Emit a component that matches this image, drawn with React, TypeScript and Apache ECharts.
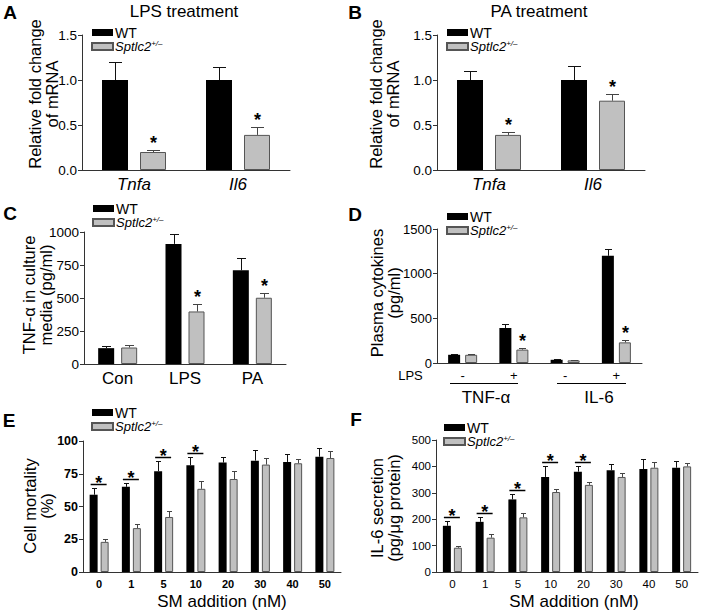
import React, { useEffect, useRef } from "react";
import * as echarts from "echarts";

const FONT = "'Liberation Sans', Arial, Helvetica, sans-serif";

// ---------- Data ----------
// Panel A – LPS treatment
const aCategories = ["Tnfa", "Il6"];
const aWT = [1.0, 1.0];
const aWTErr = [0.2, 0.15];
const aKO = [0.2, 0.39];
const aKOErr = [0.02, 0.09];
const aStars = [1, 1];

// Panel B – PA treatment
const bCategories = ["Tnfa", "Il6"];
const bWT = [1.0, 1.0];
const bWTErr = [0.1, 0.16];
const bKO = [0.39, 0.77];
const bKOErr = [0.03, 0.07];
const bStars = [1, 1];

// Panel C – TNF-α in culture media
const cCategories = ["Con", "LPS", "PA"];
const cWT = [120, 910, 710];
const cWTErr = [20, 76, 92];
const cKO = [125, 398, 502];
const cKOErr = [17, 54, 38];
const cStars = [0, 1, 1];

// Panel D – Plasma cytokines
const dCategories = ["-", "+", "-", "+"];
const dGroups = ["TNF-α", "IL-6"];
const dWT = [92, 392, 36, 1200];
const dWTErr = [8, 44, 5, 78];
const dKO = [92, 150, 30, 231];
const dKOErr = [6, 17, 3, 28];
const dStars = [0, 1, 0, 1];

// Panel E – Cell mortality
const eCategories = ["0", "1", "5", "10", "20", "30", "40", "50"];
const eWT = [59, 65, 77, 81.5, 83.5, 85, 84, 88];
const eWTErr = [5, 3, 7.5, 6, 4, 8, 6, 7];
const eKO = [23, 33.5, 42, 63.5, 71, 82, 83, 87];
const eKOErr = [2, 3, 4.5, 6, 6, 5, 3, 5];
const eSig = [1, 1, 1, 1, 0, 0, 0, 0];

// Panel F – IL-6 secretion
const fCategories = ["0", "1", "5", "10", "20", "30", "40", "50"];
const fWT = [175, 190, 275, 360, 380, 385, 390, 395];
const fWTErr = [18, 17, 22, 40, 20, 25, 38, 25];
const fKO = [92, 130, 207, 303, 330, 360, 395, 400];
const fKOErr = [8, 15, 15, 12, 12, 15, 22, 13];
const fSig = [1, 1, 1, 1, 1, 0, 0, 0];

// ---------- Helpers ----------
const AXIS_COLOR = "#333";
const GRAY = "#c0c0c0";
const GRAY_BORDER = "#555";

type Panel = {
  grid: { left: number; top: number; width: number; height: number };
  cats: string[];
  wt: number[];
  wtErr: number[];
  ko: number[];
  koErr: number[];
  flags: number[];
  mode: "star" | "sig";
  barW: number;
  gap: number;
  cap: number;
  min: number;
  max: number;
  interval: number;
  yFmt: (v: number) => string;
  yLabel: any;
  xLabel: any;
  legendPos: { left: number; top: number };
};

const plain = (v: number) => String(v);

const panels: Panel[] = [
  {
    grid: { left: 82, top: 35, width: 208, height: 135 },
    cats: aCategories, wt: aWT, wtErr: aWTErr, ko: aKO, koErr: aKOErr, flags: aStars,
    mode: "star", barW: 26, gap: 12, cap: 13, min: 0, max: 1.5, interval: 0.5,
    yFmt: (v) => v.toFixed(1),
    yLabel: { fontSize: 13.5 },
    xLabel: { fontSize: 17, fontStyle: "italic", margin: 6 },
    legendPos: { left: 91, top: 25.5 },
  },
  {
    grid: { left: 437, top: 35, width: 208, height: 135 },
    cats: bCategories, wt: bWT, wtErr: bWTErr, ko: bKO, koErr: bKOErr, flags: bStars,
    mode: "star", barW: 26, gap: 12, cap: 13, min: 0, max: 1.5, interval: 0.5,
    yFmt: (v) => v.toFixed(1),
    yLabel: { fontSize: 13.5 },
    xLabel: { fontSize: 17, fontStyle: "italic", margin: 6 },
    legendPos: { left: 446, top: 25.5 },
  },
  {
    grid: { left: 84, top: 232, width: 202, height: 132 },
    cats: cCategories, wt: cWT, wtErr: cWTErr, ko: cKO, koErr: cKOErr, flags: cStars,
    mode: "star", barW: 16, gap: 7, cap: 9, min: 0, max: 1000, interval: 250,
    yFmt: plain,
    yLabel: { fontSize: 13.5 },
    xLabel: { fontSize: 17, margin: 6 },
    legendPos: { left: 92, top: 201.5 },
  },
  {
    grid: { left: 437, top: 229, width: 205, height: 134 },
    cats: dCategories, wt: dWT, wtErr: dWTErr, ko: dKO, koErr: dKOErr, flags: dStars,
    mode: "star", barW: 12, gap: 5, cap: 7, min: 0, max: 1500, interval: 500,
    yFmt: plain,
    yLabel: { fontSize: 13 },
    xLabel: { fontSize: 13, margin: 6 },
    legendPos: { left: 446, top: 209.5 },
  },
  {
    grid: { left: 83, top: 441, width: 258, height: 131 },
    cats: eCategories, wt: eWT, wtErr: eWTErr, ko: eKO, koErr: eKOErr, flags: eSig,
    mode: "sig", barW: 8, gap: 3, cap: 5, min: 0, max: 100, interval: 25,
    yFmt: plain,
    yLabel: { fontSize: 12.5, fontWeight: "bold" },
    xLabel: { fontSize: 11, fontWeight: "bold", margin: 6 },
    legendPos: { left: 91, top: 405.5 },
  },
  {
    grid: { left: 436, top: 440, width: 262, height: 132 },
    cats: fCategories, wt: fWT, wtErr: fWTErr, ko: fKO, koErr: fKOErr, flags: fSig,
    mode: "sig", barW: 8, gap: 3, cap: 5, min: 0, max: 500, interval: 100,
    yFmt: plain,
    yLabel: { fontSize: 11.5 },
    xLabel: { fontSize: 11.5, margin: 6 },
    legendPos: { left: 443, top: 420.5 },
  },
];

function makeRenderItem(p: Panel) {
  return (params: any, api: any) => {
    const i = api.value(0);
    const wt = api.value(1);
    const wtE = api.value(2);
    const ko = api.value(3);
    const koE = api.value(4);
    const flag = api.value(5);
    const cx = api.coord([i, 0])[0];
    const off = (p.barW + p.gap) / 2;
    const xW = Math.round(cx - off) + 0.5;
    const xK = Math.round(cx + off) + 0.5;
    const yWTop = api.coord([i, wt])[1];
    const yWErr = Math.round(api.coord([i, wt + wtE])[1]) + 0.5;
    const yKTop = api.coord([i, ko])[1];
    const yKErr = Math.round(api.coord([i, ko + koE])[1]) + 0.5;
    const children: any[] = [];
    const errBar = (x: number, yTop: number, yErr: number, color: string) => {
      children.push({
        type: "line",
        shape: { x1: x, y1: yTop, x2: x, y2: yErr },
        style: { stroke: color, lineWidth: 1 },
      });
      children.push({
        type: "line",
        shape: { x1: x - p.cap / 2, y1: yErr, x2: x + p.cap / 2, y2: yErr },
        style: { stroke: color, lineWidth: 1 },
      });
    };
    errBar(xW, yWTop, yWErr, "#111");
    errBar(xK, yKTop, yKErr, "#444");
    const star = (x: number, y: number) => ({
      type: "text",
      x,
      y,
      style: {
        text: "*",
        fontSize: 18,
        fontWeight: "bold",
        fontFamily: FONT,
        fill: "#000",
        align: "center",
        verticalAlign: "middle",
      },
    });
    if (flag) {
      if (p.mode === "star") {
        children.push(star(xK, yKErr - 8));
      } else {
        const yLine = Math.round(Math.min(yWErr, yKErr) - 5) + 0.5;
        const x1 = cx - off - p.barW / 2 + 1;
        const x2 = cx + off + p.barW / 2 - 2;
        children.push({
          type: "line",
          shape: { x1, y1: yLine, x2, y2: yLine },
          style: { stroke: "#000", lineWidth: 1.5 },
        });
        children.push(star((x1 + x2) / 2, yLine - 2));
      }
    }
    return { type: "group", children };
  };
}

function buildOption() {
  const grid: any[] = [];
  const xAxis: any[] = [];
  const yAxis: any[] = [];
  const series: any[] = [];
  const legend: any[] = [];

  panels.forEach((p, k) => {
    grid.push({ ...p.grid, containLabel: false });
    xAxis.push({
      type: "category",
      gridIndex: k,
      data: p.cats,
      axisLine: { show: true, lineStyle: { color: AXIS_COLOR, width: 1 } },
      axisTick: { show: false },
      axisLabel: { color: "#000", fontFamily: FONT, interval: 0, ...p.xLabel },
      splitLine: { show: false },
    });
    yAxis.push({
      type: "value",
      gridIndex: k,
      min: p.min,
      max: p.max,
      interval: p.interval,
      axisLine: { show: true, lineStyle: { color: AXIS_COLOR, width: 1 } },
      axisTick: { show: true, length: 4, lineStyle: { color: AXIS_COLOR } },
      axisLabel: {
        color: "#000",
        fontFamily: FONT,
        margin: 5,
        formatter: (v: number) => p.yFmt(v),
        ...p.yLabel,
      },
      splitLine: { show: false },
    });
    series.push({
      type: "bar",
      name: "WT",
      xAxisIndex: k,
      yAxisIndex: k,
      data: p.wt,
      barWidth: p.barW,
      barGap: `${(p.gap / p.barW) * 100}%`,
      itemStyle: { color: "#000" },
      silent: true,
    });
    series.push({
      type: "bar",
      name: "Sptlc2",
      xAxisIndex: k,
      yAxisIndex: k,
      data: p.ko,
      barWidth: p.barW,
      barGap: `${(p.gap / p.barW) * 100}%`,
      itemStyle: { color: GRAY, borderColor: GRAY_BORDER, borderWidth: 1 },
      silent: true,
    });
    series.push({
      type: "custom",
      xAxisIndex: k,
      yAxisIndex: k,
      z: 5,
      silent: true,
      renderItem: makeRenderItem(p),
      encode: { x: 0, y: 1 },
      data: p.cats.map((_, i) => [i, p.wt[i], p.wtErr[i], p.ko[i], p.koErr[i], p.flags[i]]),
    });
    legend.push({
      orient: "vertical",
      left: p.legendPos.left,
      top: p.legendPos.top,
      padding: 0,
      itemGap: 0,
      itemWidth: 21,
      itemHeight: 7,
      icon: "rect",
      selectedMode: false,
      data: ["WT", "Sptlc2"],
      formatter: (name: string) => (name === "WT" ? "{n|WT}" : "{i|Sptlc2}{s|+/–}"),
      textStyle: {
        color: "#000",
        fontFamily: FONT,
        fontSize: 14,
        lineHeight: 14,
        padding: [0, 0, 0, -3],
        rich: {
          n: { fontSize: 14, lineHeight: 14, fontFamily: FONT, color: "#000" },
          i: { fontSize: 13, lineHeight: 14, fontStyle: "italic", fontFamily: FONT, color: "#000" },
          s: { fontSize: 8, lineHeight: 14, fontStyle: "italic", verticalAlign: "top", fontFamily: FONT, color: "#000" },
        },
      },
    });
  });

  const txt = (text: string, x: number, y: number, size: number, extra: any = {}) => ({
    type: "text",
    x,
    y,
    silent: true,
    style: {
      text,
      fontSize: size,
      fontFamily: FONT,
      fill: "#000",
      align: "center",
      verticalAlign: "middle",
      ...extra,
    },
  });
  const vtxt = (text: string, x: number, y: number) => ({
    type: "text",
    x,
    y,
    rotation: Math.PI / 2,
    silent: true,
    style: {
      text,
      fontSize: 16.5,
      lineHeight: 17,
      fontFamily: FONT,
      fill: "#000",
      align: "center",
      verticalAlign: "middle",
    },
  });

  const graphic: any[] = [
    // panel letters
    txt("A", 10, 12.5, 19, { fontWeight: "bold" }),
    txt("B", 355, 12.5, 19, { fontWeight: "bold" }),
    txt("C", 10, 213.5, 19, { fontWeight: "bold" }),
    txt("D", 355, 214, 19, { fontWeight: "bold" }),
    txt("E", 9, 420, 19, { fontWeight: "bold" }),
    txt("F", 356, 419, 19, { fontWeight: "bold" }),
    // titles
    txt("LPS treatment", 184, 11.5, 17),
    txt("PA treatment", 539, 11.5, 17),
    // y-axis titles
    vtxt("Relative fold change\nof mRNA", 43, 94),
    vtxt("Relative fold change\nof mRNA", 384, 94),
    vtxt("TNF-α in culture\nmedia (pg/ml)", 37, 295),
    vtxt("Plasma cytokines\n(pg/ml)", 385, 293),
    vtxt("Cell mortality\n(%)", 38, 506),
    vtxt("IL-6 secretion\n(pg/μg protein)", 385.5, 508),
    // x-axis titles
    txt("SM addition (nM)", 222, 601, 17),
    txt("SM addition (nM)", 574, 601, 17),
    // panel D grouping
    txt("LPS", 410.5, 375.5, 13),
    {
      type: "line",
      silent: true,
      shape: { x1: 450, y1: 383.5, x2: 518, y2: 383.5 },
      style: { stroke: "#000", lineWidth: 1 },
    },
    {
      type: "line",
      silent: true,
      shape: { x1: 557, y1: 383.5, x2: 626, y2: 383.5 },
      style: { stroke: "#000", lineWidth: 1 },
    },
    txt(dGroups[0], 486, 397.5, 17),
    txt(dGroups[1], 599, 397.5, 17),
  ];

  return {
    animation: false,
    backgroundColor: "#fff",
    textStyle: { fontFamily: FONT },
    grid,
    xAxis,
    yAxis,
    series,
    legend,
    graphic,
  };
}

export default function App() {
  const ref = useRef<HTMLDivElement>(null);
  useEffect(() => {
    if (!ref.current) return;
    const chart = echarts.init(ref.current, undefined, { renderer: "svg" });
    chart.setOption(buildOption() as any);
    return () => chart.dispose();
  }, []);
  return (
    <div
      ref={ref}
      style={{ position: "absolute", left: 0, top: 0, width: 702, height: 613, background: "#fff" }}
    />
  );
}
